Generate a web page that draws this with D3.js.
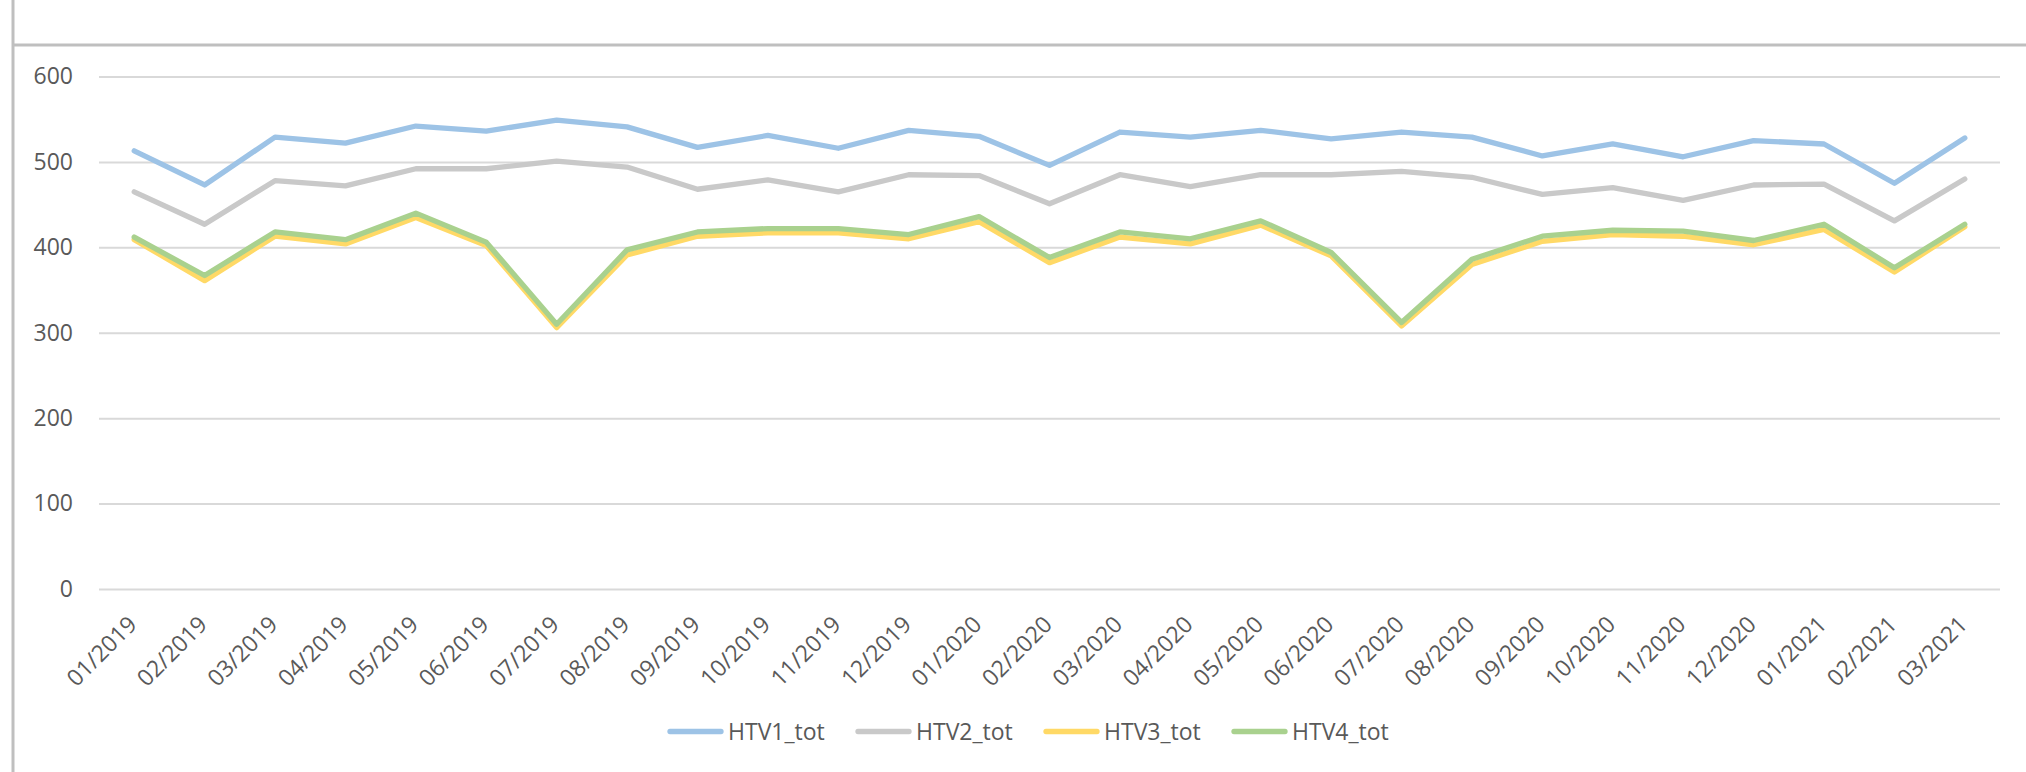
<!DOCTYPE html>
<html>
<head>
<meta charset="utf-8">
<script src="https://cdn.jsdelivr.net/npm/d3@7"></script>
<style>
    body { margin: 0; background: #fff; }
    svg text { font-family: "Open Sans", "Noto Sans", sans-serif; fill: #595959; }
</style>
</head>
<body>
<div id="chartDiv"></div>
<script>
var months = ["01/2019", "02/2019", "03/2019", "04/2019", "05/2019", "06/2019", "07/2019", "08/2019", "09/2019",
    "10/2019", "11/2019", "12/2019", "01/2020", "02/2020", "03/2020", "04/2020", "05/2020", "06/2020", "07/2020",
    "08/2020", "09/2020", "10/2020", "11/2020", "12/2020", "01/2021", "02/2021", "03/2021"];

var htv1 = [513, 473, 529, 522, 542, 536, 549, 541, 517, 531, 516, 537, 530, 496, 535, 529, 537, 527, 535, 529, 507, 521, 506, 525, 521, 475, 528];
var htv2 = [465, 427, 478, 472, 492, 492, 501, 494, 468, 479, 465, 485, 484, 451, 485, 471, 485, 485, 489, 482, 462, 470, 455, 473, 474, 431, 480];
var htv3 = [409, 361, 413, 404, 435, 402, 306, 391, 413, 417, 417, 410, 430, 382, 412, 404, 426, 390, 308, 380, 407, 415, 413, 403, 421, 371, 424];
var htv4 = [412, 367, 418, 409, 440, 406, 310, 397, 418, 422, 422, 415, 436, 388, 418, 410, 431, 394, 312, 386, 413, 420, 419, 408, 427, 376, 427];

var seriesNames = ["HTV1_tot", "HTV2_tot", "HTV3_tot", "HTV4_tot"];
var yTicks = [0, 100, 200, 300, 400, 500, 600];

var width = 2026, height = 772;
var plot = {left: 99, right: 2000, top: 76.5, bottom: 589};
var fontSize = "23px";

var svg = d3.select("#chartDiv")
    .append("svg")
    .attr("width", width)
    .attr("height", height);

// frame lines of the chart box
svg.append("line")
    .attr("x1", 13).attr("x2", 13)
    .attr("y1", 0).attr("y2", height)
    .attr("stroke", "#bfbfbf").attr("stroke-width", 3);
svg.append("line")
    .attr("x1", 13).attr("x2", width)
    .attr("y1", 45).attr("y2", 45)
    .attr("stroke", "#bfbfbf").attr("stroke-width", 3);

var x = d3.scaleBand()
    .domain(months)
    .range([plot.left, plot.right]);

var y = d3.scaleLinear()
    .domain([0, 600])
    .range([plot.bottom, plot.top]);

// gridlines + y labels
var yAxis = svg.append("g")
    .attr("transform", "translate(" + plot.left + ",0)")
    .call(d3.axisLeft(y).tickValues(yTicks).tickSize(-(plot.right - plot.left)).tickPadding(26));
yAxis.select(".domain").remove();
yAxis.selectAll(".tick line").attr("stroke", "#d9d9d9").attr("stroke-width", 2);
yAxis.selectAll(".tick text").style("font-size", fontSize);

// x labels, rotated
var xAxis = svg.append("g")
    .attr("transform", "translate(0," + plot.bottom + ")")
    .call(d3.axisBottom(x).tickSize(0).tickPadding(0));
xAxis.select(".domain").remove();
xAxis.selectAll(".tick text")
    .style("font-size", fontSize)
    .attr("text-anchor", "end")
    .attr("dy", null)
    .attr("transform", "translate(4,37) rotate(-45)");

var color = d3.scaleOrdinal()
    .domain(seriesNames)
    .range(["#9dc3e6", "#c9c9c9", "#ffd966", "#a9d18e"]);

var allSeries = [htv1, htv2, htv3, htv4];

var line = d3.line()
    .x(function (d, i) { return x(months[i]) + x.bandwidth() / 2; })
    .y(function (d) { return y(d); });

svg.selectAll(".serie")
    .data(allSeries)
    .enter()
    .append("path")
    .attr("class", "serie")
    .attr("d", line)
    .attr("fill", "none")
    .attr("stroke", function (d, i) { return color(seriesNames[i]); })
    .attr("stroke-width", 5.3)
    .attr("stroke-linejoin", "round")
    .attr("stroke-linecap", "round");

// legend
var legendStep = 188, legendLine = 51;
var legend = svg.selectAll(".legend")
    .data(seriesNames)
    .enter()
    .append("g")
    .attr("class", "legend")
    .attr("transform", function (d, i) {
        return "translate(" + (670 + i * legendStep) + ",731.5)";
    });

legend.append("line")
    .attr("x1", 0).attr("x2", legendLine)
    .attr("y1", 0).attr("y2", 0)
    .attr("stroke", color)
    .attr("stroke-width", 5.3)
    .attr("stroke-linecap", "round");

legend.append("text")
    .attr("x", legendLine + 7)
    .attr("y", 0)
    .attr("dy", "0.35em")
    .style("font-size", fontSize)
    .text(function (d) { return d; });
</script>
</body>
</html>
